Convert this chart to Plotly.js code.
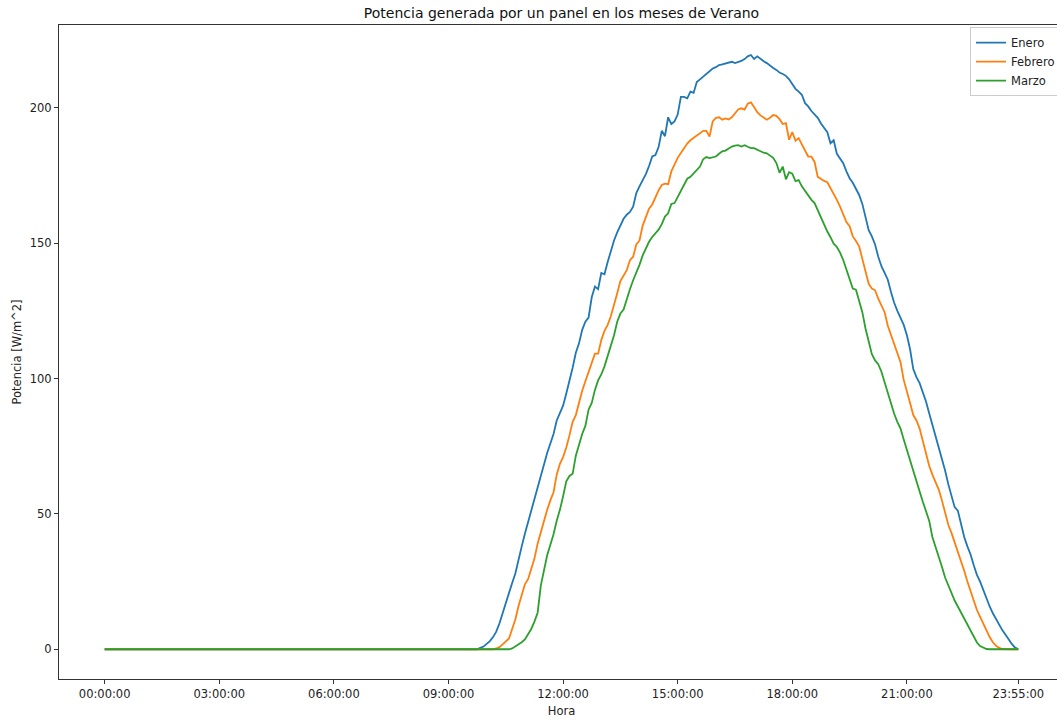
<!DOCTYPE html>
<html><head><meta charset="utf-8">
<script src="https://cdn.plot.ly/plotly-3.0.1.min.js"></script>
<style>html,body{margin:0;padding:0;overflow:hidden;background:#fff}</style>
</head><body><div id="chart"></div>
<script>
// x categories: one sample every 5 minutes, 00:00:00 .. 23:55:00
const horas = [];
for (let m = 0; m < 24 * 60; m += 5) {
  const h = String(Math.floor(m / 60)).padStart(2, '0');
  const mm = String(m % 60).padStart(2, '0');
  horas.push(h + ':' + mm + ':00');
}
const tickLabels = ['00:00:00','03:00:00','06:00:00','09:00:00','12:00:00','15:00:00','18:00:00','21:00:00','23:55:00'];
const yTicks = [0, 50, 100, 150, 200];

const enero = [
0,0,0,0,0,0,0,0,0,0, 0,0,0,0,0,0,0,0,0,0, 0,0,0,0,0,0,0,0,0,0, 0,0,0,0,0,0,0,0,0,0,
0,0,0,0,0,0,0,0,0,0, 0,0,0,0,0,0,0,0,0,0, 0,0,0,0,0,0,0,0,0,0, 0,0,0,0,0,0,0,0,0,0,
0,0,0,0,0,0,0,0,0,0, 0,0,0,0,0,0,0,0,0,0, 0,0,0,0,0,0,0,0,0,0, 0,0,0,0,0,0,0,
0,0.5,1,2,3,4.5,6.5,9.5,13.5,17,
21,24.5,28,33.5,38,42.7,47,50.5,55.5,60,
64,68.5,72.5,76,79.5,84.5,87,90,94.5,99,
104,109.5,113,118,121,122.5,130,134,133,139,
138.5,143,147.5,151,154,156.5,159,160.5,161.5,163.5,
168.5,171,173,175.5,178.5,182,182.5,185.5,191.5,189.5,
196.5,194,195,197.5,204,204,203.5,206,205.5,209.5,
210.5,211.5,212.8,213.5,214.5,215,215.8,216,216.4,216.8,
217,216.5,216.8,217.3,218,219,219.5,218,219,218,
217.2,216.5,215.5,214.7,214,213,212.5,211.8,210.5,208.5,
207,206,204.8,201.7,200.5,198.8,197.5,196.3,194.2,192.5,
191,186.9,188,183,181,179.5,176.5,174,172.3,170,
167.8,164.5,160,154.8,152.5,149.5,145,141.5,139,136.5,
132,128,125,122.5,119.8,116,110.8,103.5,100.5,98.3,
95,91.5,87.2,83,79,75,70.5,66,61,56.5,
52.5,51.2,46,41.5,38,35,31,27.5,25,21.8,
18.5,15.8,13.3,11,9,7,5.4,3.5,1.9,0.6,
0];

const febrero = [
0,0,0,0,0,0,0,0,0,0, 0,0,0,0,0,0,0,0,0,0, 0,0,0,0,0,0,0,0,0,0, 0,0,0,0,0,0,0,0,0,0,
0,0,0,0,0,0,0,0,0,0, 0,0,0,0,0,0,0,0,0,0, 0,0,0,0,0,0,0,0,0,0, 0,0,0,0,0,0,0,0,0,0,
0,0,0,0,0,0,0,0,0,0, 0,0,0,0,0,0,0,0,0,0, 0,0,0,0,0,0,0,0,0,0, 0,0,0,0,0,0,0,
0,0,0,0,0,0,0.3,0.8,1.8,3,
4,7.5,11,16,20,24,25.9,30,33.5,39,
43.5,47.5,51.5,55,58,64.5,68.5,71,74.5,79,
84,86.5,91.5,95.5,99,102.5,106.2,109.2,109.2,114.2,
117.6,119.8,123,127,131.5,136,138,140,143.7,145,
149.5,151,156.5,160,162.7,164.3,167,169.5,171.5,172,
171.8,176.5,179,181.5,183.3,185,186.8,188,188.8,189.7,
190.6,191.5,191.5,189.4,195,196.3,196.5,195.6,196.1,195.7,
196.5,198,199.4,199.8,199.3,201.5,202,200.3,198.4,197.2,
196.3,195.6,196.3,197.3,197,195.8,194,194.3,188.2,191,
187.8,188.8,186.5,184.5,182,182,180,174.5,173.6,173,
172.5,170.5,168.5,166,163.5,160.3,157.8,156.3,152.5,150.8,
148.8,144.2,139.5,135,133.2,132.6,129.5,127,124.5,119.5,
116,112.5,109.5,106,99.5,95.5,91,86.5,84.5,81.5,
77,72.5,67.8,64.5,62,59,55,50,46,43,
39.5,36,33,29,25,21.5,18,14.5,12,9.2,
7,4.5,2.6,1.3,0.5,0.1,0,0,0,0,
0];

const marzo = [
0,0,0,0,0,0,0,0,0,0, 0,0,0,0,0,0,0,0,0,0, 0,0,0,0,0,0,0,0,0,0, 0,0,0,0,0,0,0,0,0,0,
0,0,0,0,0,0,0,0,0,0, 0,0,0,0,0,0,0,0,0,0, 0,0,0,0,0,0,0,0,0,0, 0,0,0,0,0,0,0,0,0,0,
0,0,0,0,0,0,0,0,0,0, 0,0,0,0,0,0,0,0,0,0, 0,0,0,0,0,0,0,0,0,0, 0,0,0,0,0,0,0,
0,0,0,0,0,0,0,0,0,0,
0,0.3,1,1.6,2.6,3.6,5.5,7.5,10.2,13.5,
23.5,29,34.7,38.6,42.5,47.5,51.5,56.5,62,64,
64.8,71.5,76,79.5,82.5,88.5,91,95.8,99.3,101.5,
104.5,108.5,112.5,116,121,124,125.5,129.5,133,136.3,
139,142,145.5,148.3,150.5,152.3,153.8,155,157,159.8,
161,164.5,164.8,167,169.5,171.5,173.8,174.5,175.8,176.8,
178.3,181,181.8,181.4,181.7,182,183,183.9,184.2,184.9,
185.7,186,186.2,185.7,186.2,185.6,185.1,185.1,184.5,183.7,
183.4,183.2,182.5,181.5,179.6,176,178.3,173.6,176.2,175.7,
172.9,173.3,171,169.4,167.5,166,164.8,162,159.3,156.8,
154.3,152.2,149.8,148.6,146.5,143.8,140.3,136,133.2,132.8,
129,124.5,118.5,114,109,106.7,105.3,102.5,98.5,94.5,
90.5,87,84,81.5,77.5,73.5,69.7,66,62,58.3,
54.5,51,47.5,41.5,38,34.5,30.5,26.5,23.5,20.5,
18,15.8,13.5,11.3,9,6.5,4.3,2.5,1.2,0.5,
0.1,0,0,0,0,0,0,0,0,0,
0];

[enero, febrero, marzo].forEach((a, k) => {
  if (a.length !== horas.length) throw new Error('series ' + k + ' length ' + a.length);
});

const FONT = 'DejaVu Sans, sans-serif';
const mk = (name, y, color) => ({
  type: 'scatter', mode: 'lines', name: name, x: horas, y: y,
  line: {color: color, width: 1.8}
});
const data = [
  mk('Enero', enero, '#1f77b4'),
  mk('Febrero', febrero, '#ff7f0e'),
  mk('Marzo', marzo, '#2ca02c')
];

const axisCommon = {
  showline: true, linecolor: '#333', linewidth: 1, mirror: true,
  ticks: 'outside', ticklen: 4, tickwidth: 1, tickcolor: '#333',
  showgrid: false, zeroline: false,
  tickfont: {family: FONT, size: 11.5, color: '#222'}
};

const layout = {
  width: 1066, height: 719,
  margin: {l: 59, r: 2, t: 25, b: 40, pad: 0},
  paper_bgcolor: '#fff', plot_bgcolor: '#fff',
  font: {family: FONT, color: '#222'},
  title: {text: 'Potencia generada por un panel en los meses de Verano',
          font: {family: FONT, size: 14, color: '#111'},
          x: 0.5, xref: 'paper', xanchor: 'center', y: 1 - 13 / 719, yref: 'container', yanchor: 'middle'},
  xaxis: Object.assign({}, axisCommon, {
    type: 'category', range: [-14.35, 301.35],
    tickvals: tickLabels, ticktext: tickLabels,
    title: {text: 'Hora', font: {family: FONT, size: 11.5, color: '#222'}, standoff: 7}
  }),
  yaxis: Object.assign({}, axisCommon, {
    range: [-10.98, 230.58], tickvals: yTicks,
    title: {text: 'Potencia [W/m^2]', font: {family: FONT, size: 11.5, color: '#222'}, standoff: 5}
  }),
  showlegend: true,
  legend: {x: 0.9065, xanchor: 'left', y: 0.9966, yanchor: 'top',
           bordercolor: '#ccc', borderwidth: 1, bgcolor: 'rgba(255,255,255,0.8)',
           font: {family: FONT, size: 11.5, color: '#222'}}
};

Plotly.newPlot('chart', data, layout, {displayModeBar: false, staticPlot: true});
</script></body></html>
